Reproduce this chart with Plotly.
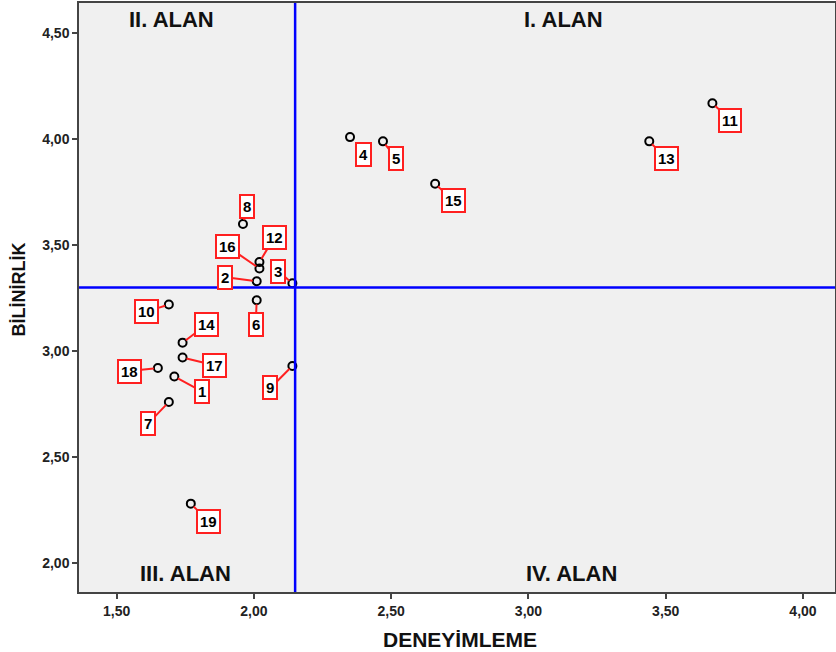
import plotly.graph_objects as go

# ---- data ----
ids = ["1", "2", "3", "4", "5", "6", "7", "8", "9", "10",
       "11", "12", "13", "14", "15", "16", "17", "18", "19"]
deneyimleme = [1.71, 2.01, 2.14, 2.35, 2.47, 2.01, 1.69, 1.96, 2.14, 1.69,
               3.67, 2.02, 3.44, 1.74, 2.66, 2.02, 1.74, 1.65, 1.77]
bilinirlik = [2.88, 3.33, 3.32, 4.01, 3.99, 3.24, 2.76, 3.60, 2.93, 3.22,
              4.17, 3.42, 3.99, 3.04, 3.79, 3.39, 2.97, 2.92, 2.28]
x_ref = 2.15
y_ref = 3.30
quadrants = ["I. ALAN", "II. ALAN", "III. ALAN", "IV. ALAN"]
x_ticks = [1.5, 2.0, 2.5, 3.0, 3.5, 4.0]
y_ticks = [2.0, 2.5, 3.0, 3.5, 4.0, 4.5]
x_title = "DENEYİMLEME"
y_title = "BİLİNİRLİK"

# label offsets in pixels (layout only)
label_offset = {
    "1": (28, 15), "2": (-32, -4), "3": (-14, -12), "4": (13, 17),
    "5": (13, 17), "6": (-1, 24), "7": (-21, 22), "8": (4, -17),
    "9": (-22, 22), "10": (-22, 7), "11": (18, 17), "12": (15, -25),
    "13": (17, 17), "14": (24, -18), "15": (18, 17), "16": (-32, -22),
    "17": (32, 8), "18": (-28, 3), "19": (18, 18),
}

FONT = "Liberation Sans, Arial"

fig = go.Figure()
fig.add_trace(go.Scatter(
    x=deneyimleme, y=bilinirlik, mode="markers",
    marker=dict(symbol="circle-open", size=8, color="black", line=dict(width=2, color="black")),
    hoverinfo="skip", showlegend=False,
))

XR = [1.3627, 4.1166]
YR = [1.863, 4.643]

# reference lines
fig.add_shape(type="line", x0=x_ref, x1=x_ref, y0=0, y1=1, xref="x", yref="paper",
              line=dict(color="#0000ff", width=2.5), layer="above")
fig.add_shape(type="line", x0=0, x1=1, y0=y_ref, y1=y_ref, xref="paper", yref="y",
              line=dict(color="#0000ff", width=2.5), layer="above")

annotations = []
for i, xv, yv in zip(ids, deneyimleme, bilinirlik):
    ax, ay = label_offset[i]
    annotations.append(dict(
        x=xv, y=yv, xref="x", yref="y", text="<b>%s</b>" % i,
        showarrow=True, arrowhead=0, arrowwidth=2, arrowcolor="#ff2020",
        ax=ax, ay=ay, standoff=4,
        font=dict(family=FONT, size=15, color="black"),
        bgcolor="white", bordercolor="#ff2020", borderwidth=2, borderpad=2,
    ))

quad_pos = {"I. ALAN": (3.126, 4.563), "II. ALAN": (1.701, 4.563),
            "III. ALAN": (1.752, 1.951), "IV. ALAN": (3.155, 1.948)}
for q in quadrants:
    qx, qy = quad_pos[q]
    annotations.append(dict(
        x=qx, y=qy, xref="x", yref="y", text="<b>%s</b>" % q, showarrow=False,
        font=dict(family=FONT, size=22, color="#111111"),
    ))

# axis titles
annotations.append(dict(
    x=0.504, y=-0.0798, xref="paper", yref="paper", yanchor="middle", showarrow=False,
    text="<b>%s</b>" % x_title, font=dict(family=FONT, size=21, color="#111111"),
))
annotations.append(dict(
    x=-0.079, y=0.514, xref="paper", yref="paper", xanchor="center", yanchor="middle",
    showarrow=False, textangle=-90, text="<b>%s</b>" % y_title,
    font=dict(family=FONT, size=18, color="#111111"),
))

axis_common = dict(
    showgrid=False, zeroline=False, showline=True, mirror=True, automargin=False,
    linecolor="#444444", linewidth=1.5, ticks="outside", ticklen=5,
    tickcolor="#444444", tickwidth=1.5, tickformat=".2f",
    tickfont=dict(family=FONT, size=14, color="#222222", weight="bold"),
)

fig.update_layout(
    width=836, height=652,
    margin=dict(l=79, r=1, t=3, b=60),
    paper_bgcolor="white", plot_bgcolor="#f0f0f0",
    separators=",.",
    xaxis=dict(range=XR, tickvals=x_ticks, **axis_common),
    yaxis=dict(range=YR, tickvals=y_ticks, **axis_common),
    annotations=annotations,
)

fig.write_html("out.html", config={"displayModeBar": False},
               post_script="document.body.style.margin='0';document.body.style.padding='0';")
